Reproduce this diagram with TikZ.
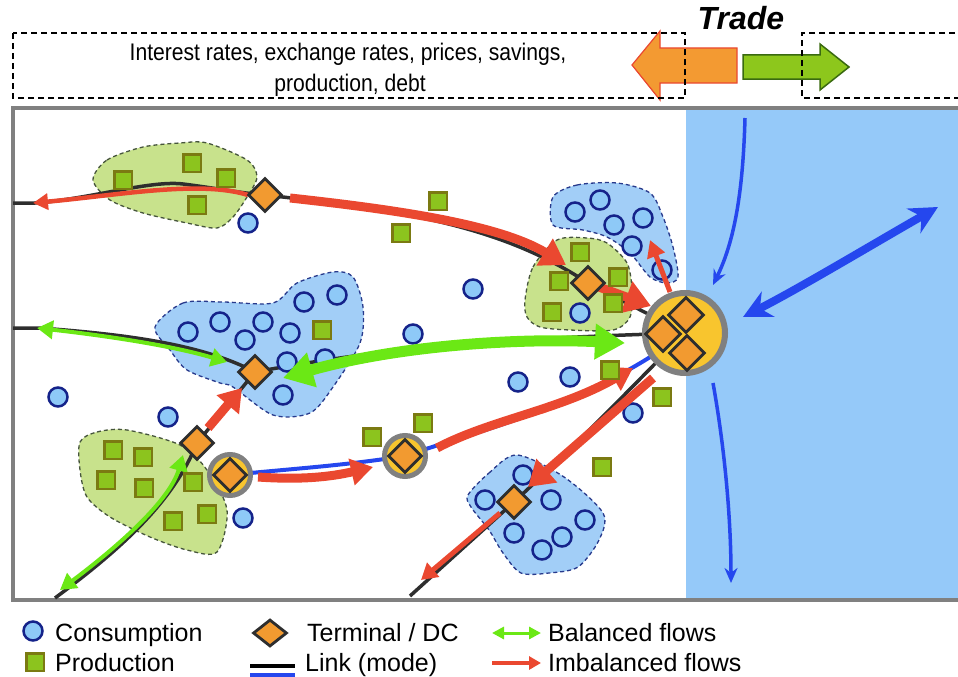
\documentclass[tikz,border=0pt]{standalone}
\usepackage{fontspec}
\setmainfont{Liberation Sans}
\newfontfamily\narrowfont[FakeStretch=0.88]{Liberation Sans}
\usetikzlibrary{arrows.meta,shapes.geometric}

\definecolor{consfill}{HTML}{8EC9F7}
\definecolor{consline}{HTML}{15238A}
\definecolor{prodfill}{HTML}{8CC41E}
\definecolor{prodline}{HTML}{7B7A12}
\definecolor{gblob}{HTML}{C8E28C}
\definecolor{gblobline}{HTML}{46553C}
\definecolor{bblob}{HTML}{A2CEF7}
\definecolor{bblobline}{HTML}{283A8C}
\definecolor{dcfill}{HTML}{F29A30}
\definecolor{dcline}{HTML}{2E2E2E}
\definecolor{flowred}{HTML}{EA4830}
\definecolor{flowgreen}{HTML}{6BE815}
\definecolor{linkblue}{HTML}{2547EE}
\definecolor{sea}{HTML}{95C9F9}
\definecolor{portfill}{HTML}{F8C52E}
\definecolor{framegray}{HTML}{808080}
\definecolor{tradeorange}{HTML}{F39A32}
\definecolor{tradegreen}{HTML}{8DC71C}
\definecolor{tradegreenline}{HTML}{3A6A10}

\tikzset{
  cons/.style={circle, draw=consline, fill=consfill, line width=2.5pt, minimum size=19pt, inner sep=0pt},
  prod/.style={rectangle, draw=prodline, fill=prodfill, line width=2.5pt, minimum size=17.5pt, inner sep=0pt},
  dc/.style={diamond, draw=dcline, fill=dcfill, line width=2.8pt, minimum width=34pt, minimum height=34pt, inner sep=0pt},
  hub/.style={circle, draw=framegray, fill=portfill, line width=5pt, minimum size=41pt, inner sep=0pt},
  gzone/.style={fill=gblob, draw=gblobline, line width=1.3pt, dash pattern=on 4pt off 3pt},
  bzone/.style={fill=bblob, draw=bblobline, line width=1.3pt, dash pattern=on 4pt off 3pt},
  blacklink/.style={draw=dcline, line width=3.5pt},
  bluelink/.style={draw=linkblue, line width=4pt},
  redthick/.style={draw=flowred, line width=9pt, -{Triangle[length=25pt,width=30pt]}},
  redthin/.style={draw=flowred, line width=4.5pt, -{Triangle[length=15pt,width=16pt]}},
  greenthin/.style={draw=flowgreen, line width=4pt, {Triangle[length=16pt,width=18pt]}-{Triangle[length=16pt,width=18pt]}},
  greenthick/.style={draw=flowgreen, line width=11pt, {Triangle[length=30pt,width=34pt]}-{Triangle[length=30pt,width=34pt]}},
  seathin/.style={draw=linkblue, line width=3.5pt, -{Stealth[length=15pt,width=13pt]}},
  seathick/.style={draw=linkblue, line width=8pt, {Stealth[length=28pt,width=28pt]}-{Stealth[length=28pt,width=28pt]}},
  boxdash/.style={draw=black, line width=1.6pt, dash pattern=on 6pt off 4pt},
  legendtext/.style={anchor=base west, inner sep=0pt, font=\fontsize{25}{28}\selectfont},
}

\begin{document}
\begin{tikzpicture}[x=1pt,y=-1pt]
\useasboundingbox (0,0) rectangle (958,677);

% sea and frame
\fill[sea] (686,108) rectangle (962,600);
\draw[framegray, line width=4pt] (962,108) -- (13,108) -- (13,600) -- (962,600);

% trade arrows
\draw[fill=tradeorange, draw=flowred, line width=1.2pt]
  (632,65) -- (660,31) -- (660,48) -- (737,48) -- (737,83) -- (660,83) -- (660,100) -- cycle;
\draw[fill=tradegreen, draw=tradegreenline, line width=1.5pt]
  (849,67) -- (820,44) -- (820,55) -- (743,55) -- (743,79) -- (820,79) -- (820,90) -- cycle;
% economic context boxes
\draw[boxdash] (13,33) rectangle (685,98);
\draw[boxdash] (965,33) -- (802,33) -- (802,98) -- (965,98);
\node[anchor=base, inner sep=0pt, font=\narrowfont\fontsize{24}{28}\selectfont] (ctx1) at (348,60)
  {Interest rates, exchange rates, prices, savings,};
\node[anchor=base, inner sep=0pt, font=\narrowfont\fontsize{24}{28}\selectfont] (ctx2) at (350,91)
  {production, debt};
\node[anchor=base, inner sep=0pt, font=\fontsize{32}{34}\selectfont\bfseries\itshape] (trade) at (741,30) {Trade};

% zones
\draw[gzone] plot[smooth cycle, tension=0.5] coordinates {(93,180) (107,160) (143,147) (180,143) (207,143) (247,160) (257,177) (247,197) (233,217) (217,228) (187,223) (143,213) (110,200)};
\draw[bzone] plot[smooth cycle, tension=0.5] coordinates {(553,197) (577,185) (617,183) (650,193) (663,217) (673,247) (678,277) (667,283) (650,277) (630,253) (607,237) (583,230) (553,225)};
\draw[gzone] plot[smooth cycle, tension=0.5] coordinates {(525,300) (533,267) (557,240) (587,238) (607,243) (627,263) (632,290) (630,317) (613,330) (570,330) (540,327) (527,317)};
\draw[bzone] plot[smooth cycle, tension=0.5] coordinates {(155,327) (183,303) (223,302) (273,303) (297,283) (333,272) (353,277) (363,307) (360,343) (333,387) (310,413) (273,415) (233,387) (220,383) (187,370) (170,350)};
\draw[gzone] plot[smooth cycle, tension=0.5] coordinates {(80,442) (97,432) (127,430) (180,445) (207,470) (227,510) (217,552) (187,550) (150,537) (110,517) (87,497) (80,470)};
\draw[bzone] plot[smooth cycle, tension=0.5] coordinates {(468,495) (489,473) (517,455) (564,477) (603,513) (599,540) (578,567) (549,573) (521,573) (503,553) (489,530) (471,507)};

% terminal positions and free link ends
\coordinate (d1) at (265,195);
\coordinate (d2) at (588,283);
\coordinate (d3) at (255,372);
\coordinate (d4) at (197,443);
\coordinate (d5) at (230,475);
\coordinate (d6) at (405,456);
\coordinate (d7) at (514,502);
\coordinate (port) at (685,333);
\coordinate (w1) at (13,203);
\coordinate (w2) at (13,328);
\coordinate (w3) at (55,598);
\coordinate (w4) at (410,596);

% links (modes)
\draw[blacklink] (w1) -- (35,203) .. controls (90,199) and (150,180) .. (183,184) .. controls (215,188) and (240,193) .. (d1);
\draw[blacklink] (d1) .. controls (400,210) and (500,225) .. (d2);
\draw[blacklink] (d2) -- (port);
\draw[blacklink] (w2) -- (40,328) .. controls (120,334) and (200,343) .. (d3);
\draw[blacklink] (d3) .. controls (400,345) and (520,338) .. (port);
\draw[blacklink] (d4) -- (d3);
\draw[blacklink] (d4) .. controls (174,500) and (124,547) .. (w3);
\draw[blacklink] (port) .. controls (610,410) and (570,450) .. (d7);
\draw[blacklink] (d7) -- (w4);
\draw[bluelink] (d5) .. controls (300,468) and (340,466) .. (d6);
\draw[bluelink] (d6) .. controls (480,430) and (590,405) .. (port);

% flow hidden behind production sites
\draw[redthick, -{Triangle[length=26pt,width=32pt]}] (d2) -- (651,306);

% consumption sites
\foreach \x/\y [count=\i] in {248/223, 473/289, 413/334, 58/397, 168/417, 243/518, 518/382, 570/377, 633/413,
  580/313, 575/212, 600/200, 614/225, 643/218, 632/246, 662/270,
  188/332, 220/322, 245/340, 263/322, 290/333, 304/302, 337/295, 287/362, 325/359, 283/395,
  523/475, 485/500, 551/500, 585/520, 514/533, 562/537, 542/550}
  \node[cons] (c\i) at (\x,\y) {};

% flows
\draw[redthin] (248,195) .. controls (200,180) and (120,195) .. (33,203);
\draw[redthick] (290,198) .. controls (400,210) and (500,225) .. (566,265);
\draw[redthin, line width=5pt, -{Triangle[length=17pt,width=18pt]}] (670,292) -- (650,240);
\draw[redthick, -{Triangle[length=22pt,width=28pt]}] (208,428) -- (242,388);
\draw[redthick, -{Triangle[length=22pt,width=26pt]}] (258,477) .. controls (300,480) and (330,477) .. (373,467);
\draw[redthick, -{Triangle[length=22pt,width=26pt]}] (437,448) .. controls (490,420) and (560,410) .. (633,368);
\draw[redthick, -{Triangle[length=25pt,width=30pt]}] (653,378) -- (528,487);
\draw[redthin, line width=5pt, -{Triangle[length=16pt,width=18pt]}] (500,513) -- (421,580);
\draw[greenthin] (37,328) .. controls (100,335) and (170,345) .. (227,362);
\draw[greenthick] (283,378) .. controls (400,345) and (520,338) .. (625,343);
\draw[greenthin] (183,455) .. controls (170,500) and (120,545) .. (60,590);

% production sites
\foreach \x/\y [count=\i] in {123/180, 192/163, 226/178, 197/205, 438/201, 401/233, 322/330,
  580/252, 559/281, 618/277, 552/312, 613/303, 610/370, 662/397, 602/467, 372/437, 423/423,
  113/450, 143/457, 106/480, 144/488, 193/482, 173/521, 207/514}
  \node[prod] (p\i) at (\x,\y) {};

% sea traffic
\coordinate (s1) at (745,118);
\coordinate (s2) at (713,285);
\coordinate (s3) at (743,317);
\coordinate (s4) at (938,207);
\coordinate (s5) at (713,383);
\coordinate (s6) at (731,583);
\draw[seathin] (s1) .. controls (743,190) and (735,240) .. (s2);
\draw[seathick] (s3) .. controls (800,288) and (880,240) .. (s4);
\draw[seathin] (s5) .. controls (725,450) and (731,520) .. (s6);

% terminals and distribution centres
\node[dc] (t1) at (d1) {};
\node[dc] (t2) at (d2) {};
\node[dc] (t3) at (d3) {};
\node[dc] (t4) at (d4) {};
\node[hub] (h5) at (d5) {};
\node[dc] (t5) at (d5) {};
\node[hub] (h6) at (d6) {};
\node[dc] (t6) at (d6) {};
\node[dc] (t7) at (d7) {};
\node[hub, line width=6pt, minimum size=80pt] (hport) at (port) {};
\node[dc, minimum width=36pt, minimum height=36pt] (pt1) at (686,315) {};
\node[dc, minimum width=36pt, minimum height=36pt] (pt2) at (663,334) {};
\node[dc, minimum width=36pt, minimum height=36pt] (pt3) at (687,353) {};

% legend
\node[cons] (lcons) at (33,631) {};
\node[legendtext] (lconst) at (55,641) {Consumption};
\node[prod] (lprod) at (35,662) {};
\node[legendtext] (lprodt) at (55,671) {Production};
\node[dc, minimum width=34pt, minimum height=27pt] (ldc) at (270,633) {};
\node[legendtext] (ldct) at (307,641) {Terminal / DC};
\coordinate (lk1) at (250,666);
\coordinate (lk2) at (295,666);
\coordinate (lk3) at (250,675);
\coordinate (lk4) at (295,675);
\draw[blacklink, line width=3.5pt, draw=black] (lk1) -- (lk2);
\draw[bluelink, line width=3.5pt] (lk3) -- (lk4);
\node[legendtext] (llinkt) at (305,671) {Link (mode)};
\coordinate (lb1) at (492,633);
\coordinate (lb2) at (541,633);
\draw[greenthin, line width=3pt, {Triangle[length=12pt,width=12pt]}-{Triangle[length=12pt,width=12pt]}] (lb1) -- (lb2);
\node[legendtext] (lbalt) at (548,641) {Balanced flows};
\coordinate (li1) at (492,663);
\coordinate (li2) at (541,663);
\draw[redthin, line width=3.5pt, -{Triangle[length=12pt,width=13pt]}] (li1) -- (li2);
\node[legendtext] (limbt) at (548,671) {Imbalanced flows};
\end{tikzpicture}
\end{document}
